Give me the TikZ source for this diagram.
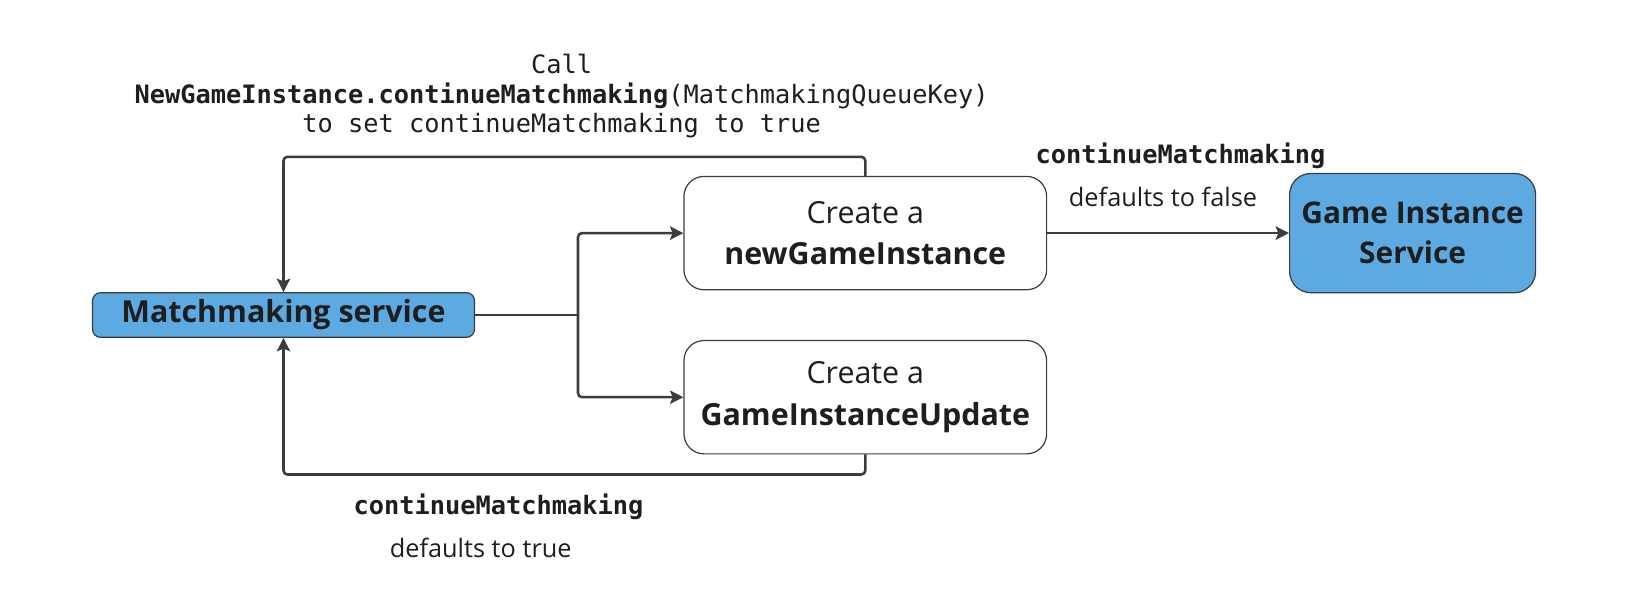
\documentclass[tikz,border=0pt]{standalone}
\usepackage{fontspec}
\setmainfont{Open Sans}
\setmonofont{DejaVu Sans Mono}
\usetikzlibrary{arrows.meta}
\definecolor{lucidblue}{RGB}{93,170,226}
\definecolor{linegray}{RGB}{60,60,60}
\definecolor{txt}{RGB}{30,30,30}
\begin{document}
\begin{tikzpicture}[x=0.75pt,y=-0.75pt,
  box/.style={draw=linegray,line width=0.9pt,rounded corners=15pt,fill=white,align=center,text=txt,inner sep=0pt,
     font=\fontsize{22.8}{31}\selectfont},
  bluebox/.style={box,fill=lucidblue},
  conn/.style={draw=linegray,line width=1.9pt,rounded corners=3pt,-{Stealth[length=10pt,width=10pt,inset=2pt]}},
  plain/.style={draw=linegray,line width=1.9pt,rounded corners=3pt},
  mono/.style={font=\ttfamily\fontsize{19}{23}\selectfont,text=txt,align=center,inner sep=0pt},
  sans/.style={font=\fontsize{19}{22}\selectfont,text=txt,inner sep=0pt}]
\useasboundingbox (0,0) rectangle (1628,613);

\node[bluebox,rounded corners=6pt,minimum width=286.5pt,minimum height=33.5pt] (mm) at (283.5,315) {\textbf{Matchmaking service}};
\node[box,minimum width=272pt,minimum height=85pt] (ngi) at (865.3,233.1) {Create a\\\textbf{newGameInstance}};
\node[box,minimum width=272pt,minimum height=85pt] (giu) at (865.3,397.2) {Create a\\\textbf{GameInstanceUpdate}};
\node[bluebox,rounded corners=16pt,minimum width=184.5pt,minimum height=89.5pt,font=\fontsize{22.4}{30}\selectfont] (gis) at (1412.6,233.1) {\textbf{Game Instance}\\\textbf{Service}};

\coordinate (br) at (578,315);
\coordinate (top) at (0,156.8);
\coordinate (bot) at (0,474.5);

\draw[plain] (mm.east) -- (br);
\draw[conn] (br) |- (ngi.west);
\draw[conn] (br) |- (giu.west);
\draw[conn] (ngi.north) -- (ngi.north |- top) -| (mm.north);
\draw[conn] (giu.south) -- (giu.south |- bot) -| (mm.south);
\draw[conn,rounded corners=0pt] (ngi.east) -- (gis.west);

\node[mono] (l1) at (561.7,64.4) {Call};
\node[mono] (l2) at (561.7,95.5) {\textbf{NewGameInstance.continueMatchmaking}(MatchmakingQueueKey)};
\node[mono] (l3) at (561.7,125.6) {to set continueMatchmaking to true};

\node[mono] (cm1) at (1180.5,155.7) {\textbf{continueMatchmaking}};
\node[sans] (df) at (1163,197.3) {defaults to false};
\node[mono] (cm2) at (498.4,506.7) {\textbf{continueMatchmaking}};
\node[sans] (dt) at (480.7,548.2) {defaults to true};
\end{tikzpicture}
\end{document}
